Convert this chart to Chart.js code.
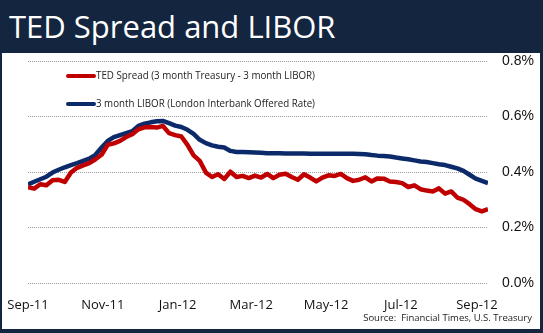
<!DOCTYPE html>
<html>
<head>
<meta charset="utf-8">
<script src="https://cdn.jsdelivr.net/npm/chart.js@4/dist/chart.umd.min.js"></script>
<style>
  html, body { margin: 0; padding: 0; }
  body { width: 543px; height: 333px; background: #13253f; position: relative; overflow: hidden; }
  #title { position: absolute; left: 9px; top: 4px; color: #ffffff; font-family: "Open Sans", sans-serif; font-size: 31px; line-height: 44px; white-space: nowrap; }
  #panel { position: absolute; left: 2px; top: 53px; width: 538px; height: 276px; background: #ffffff; }
  #source { position: absolute; right: 11px; top: 311px; font-family: "Open Sans", sans-serif; font-size: 9.5px; color: #222; white-space: nowrap; }
  #wrap { position: absolute; left: 0; top: 0; width: 543px; height: 333px; }
</style>
</head>
<body>
<div id="title">TED Spread and LIBOR</div>
<div id="panel"></div>
<div id="wrap"><canvas id="c" width="543" height="333"></canvas></div>
<div id="source">Source:&nbsp; Financial Times, U.S. Treasury</div>
<script>
// Days since 1 Sep 2011
const days = [0,5,10,15,20,25,30,35,40,45,50,55,60,65,70,75,80,85,90,95,100,105,110,115,120,125,130,135,140,145,150,155,160,165,170,175,180,185,190,195,200,205,210,215,220,225,230,235,240,245,250,255,260,265,270,275,280,285,290,295,300,305,310,315,320,325,330,335,340,345,350,355,360,365,370,375];

const tedSpread = [0.345,0.340,0.356,0.352,0.370,0.372,0.364,0.398,0.415,0.424,0.432,0.446,0.462,0.498,0.503,0.512,0.526,0.536,0.554,0.561,0.562,0.560,0.566,0.540,0.533,0.528,0.498,0.460,0.440,0.398,0.382,0.392,0.375,0.401,0.382,0.386,0.378,0.387,0.380,0.393,0.378,0.390,0.394,0.382,0.372,0.392,0.380,0.366,0.380,0.388,0.386,0.393,0.378,0.368,0.372,0.381,0.366,0.377,0.376,0.366,0.364,0.360,0.346,0.352,0.338,0.333,0.330,0.341,0.322,0.330,0.308,0.300,0.284,0.266,0.258,0.266];

const libor = [0.355,0.365,0.374,0.383,0.398,0.408,0.417,0.425,0.432,0.440,0.448,0.462,0.488,0.512,0.526,0.533,0.540,0.547,0.566,0.574,0.579,0.583,0.584,0.576,0.567,0.562,0.552,0.537,0.516,0.504,0.496,0.491,0.488,0.476,0.472,0.472,0.471,0.470,0.469,0.468,0.468,0.468,0.467,0.467,0.467,0.467,0.466,0.466,0.466,0.466,0.466,0.466,0.466,0.466,0.465,0.464,0.461,0.459,0.458,0.456,0.452,0.449,0.446,0.442,0.438,0.436,0.432,0.428,0.425,0.419,0.413,0.404,0.390,0.376,0.368,0.360];

const tickDays = [0,61,122,182,243,304,366];
const tickLabels = ['Sep-11','Nov-11','Jan-12','Mar-12','May-12','Jul-12','Sep-12'];
const yTicks = [0, 0.2, 0.4, 0.6, 0.8];

const seriesNames = ['TED Spread (3 month Treasury - 3 month LIBOR)', '3 month LIBOR (London Interbank Offered Rate)'];
const seriesColors = ['#c00000', '#0c2a6a'];

const pts = (vals) => vals.map((v, i) => ({ x: days[i], y: v }));

const legendPlugin = {
  id: 'customLegend',
  afterDraw(chart) {
    const ctx = chart.ctx;
    const rows = [76, 104];
    const targetWidth = 219;
    ctx.save();
    chart.data.datasets.forEach((ds, i) => {
      const y = rows[i];
      ctx.strokeStyle = ds.borderColor;
      ctx.lineWidth = 4;
      ctx.lineCap = 'round';
      ctx.beginPath();
      ctx.moveTo(68, y);
      ctx.lineTo(94, y);
      ctx.stroke();
      ctx.fillStyle = '#222222';
      ctx.font = '11px "Open Sans", sans-serif';
      const w = ctx.measureText(ds.label).width;
      ctx.textBaseline = 'middle';
      ctx.textAlign = 'left';
      ctx.save();
      ctx.translate(96, y);
      ctx.scale(targetWidth / w, 1);
      ctx.fillText(ds.label, 0, 0);
      ctx.restore();
    });
    ctx.restore();
  }
};

new Chart(document.getElementById('c'), {
  type: 'line',
  data: {
    datasets: [
      { label: seriesNames[0], data: pts(tedSpread), borderColor: seriesColors[0], borderWidth: 4.5, pointRadius: 0, tension: 0, borderJoinStyle: 'round' },
      { label: seriesNames[1], data: pts(libor), borderColor: seriesColors[1], borderWidth: 4.5, pointRadius: 0, tension: 0, borderJoinStyle: 'round' }
    ]
  },
  options: {
    responsive: false,
    animation: false,
    layout: { padding: { left: 28, top: 61, right: 0, bottom: 0 } },
    plugins: { legend: { display: false }, tooltip: { enabled: false } },
    scales: {
      x: {
        type: 'linear',
        min: 0,
        max: 375,
        grid: { display: false },
        border: { display: false },
        afterBuildTicks: (axis) => { axis.ticks = tickDays.map(v => ({ value: v })); },
        afterFit: (axis) => { axis.height = 50; },
        ticks: {
          autoSkip: false,
          maxRotation: 0,
          padding: 6,
          color: '#111',
          font: { family: 'Open Sans', size: 13 },
          callback: (v) => { const i = tickDays.indexOf(v); return i >= 0 ? tickLabels[i] : ''; }
        }
      },
      y: {
        position: 'right',
        min: 0,
        max: 0.8,
        afterBuildTicks: (axis) => { axis.ticks = yTicks.map(v => ({ value: v })); },
        afterFit: (axis) => { axis.width = 55; },
        border: { display: false, dash: [1, 1] },
        grid: { color: '#9a9a9a', lineWidth: 1, drawTicks: false },
        ticks: {
          padding: 14,
          color: '#111',
          font: { family: 'Liberation Sans', size: 14 },
          callback: (v) => v.toFixed(1) + '%'
        }
      }
    }
  },
  plugins: [legendPlugin]
});
</script>
</body>
</html>
